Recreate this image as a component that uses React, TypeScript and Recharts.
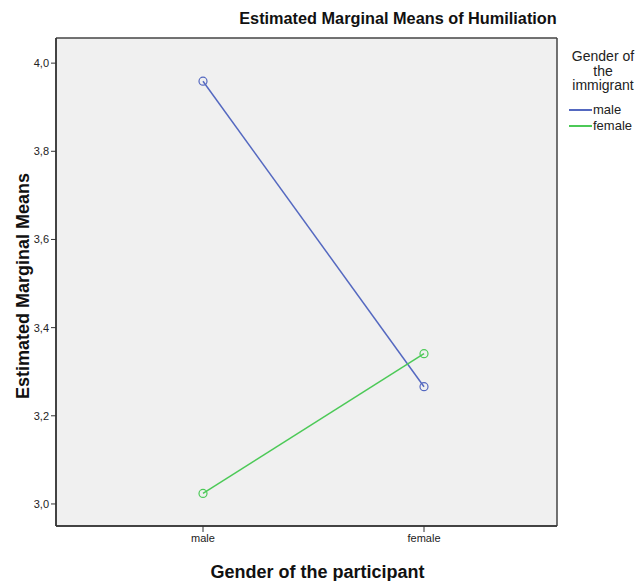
import { LineChart, Line, XAxis, YAxis, CartesianGrid } from 'recharts';

// Gender of the participant
const categories = ['male', 'female'];
// Gender of the immigrant
const maleImmigrant = [3.959, 3.266];
const femaleImmigrant = [3.024, 3.341];
const yTicks = [3.0, 3.2, 3.4, 3.6, 3.8, 4.0];

const seriesNames = ['male', 'female'];
const colors = ['#5468c0', '#4cc957'];

const data = categories.map((c, i) => ({
  gender: c,
  male: maleImmigrant[i],
  female: femaleImmigrant[i],
}));

const font = '"Liberation Sans", Arial, sans-serif';

function LegendBox() {
  return (
    <div style={{ fontFamily: font, color: '#222', width: 72 }}>
      <div style={{ textAlign: 'center', fontSize: 14, lineHeight: '14.5px', marginBottom: 9.5 }}>
        Gender of
        <br />
        the
        <br />
        immigrant
      </div>
      {seriesNames.map((name, i) => (
        <div key={name} style={{ display: 'flex', alignItems: 'center', height: 16, paddingLeft: 2 }}>
          <span style={{ display: 'inline-block', width: 23, height: 2, background: colors[i], marginRight: 1 }} />
          <span style={{ fontSize: 13, lineHeight: '16px' }}>{name}</span>
        </div>
      ))}
    </div>
  );
}

export default function App() {
  return (
    <div style={{ position: 'absolute', left: 0, top: 0, width: 636, height: 581, background: '#fff', overflow: 'hidden' }}>
      <div
        style={{
          position: 'absolute',
          left: 236,
          top: 9,
          width: 324,
          textAlign: 'center',
          fontFamily: font,
          fontWeight: 'bold',
          fontSize: 16.3,
          color: '#111',
        }}
      >
        Estimated Marginal Means of Humiliation
      </div>
      <div style={{ position: 'absolute', left: 567, top: 49 }}>
        <LegendBox />
      </div>
      <LineChart width={636} height={581} data={data} margin={{ top: 38, right: 79, left: 10, bottom: 25 }}>
        {/* plot frame: grid lines only on the plot edges */}
        <CartesianGrid
          fill="#f0f0f0"
          stroke="#444"
          strokeWidth={1.5}
          horizontalCoordinatesGenerator={({ offset }: any) => [offset.top, offset.top + offset.height]}
          verticalCoordinatesGenerator={({ offset }: any) => [offset.left, offset.left + offset.width]}
        />
        <XAxis
          dataKey="gender"
          padding={{ left: 147, right: 133 }}
          height={30}
          tickLine={{ stroke: '#333' }}
          axisLine={{ stroke: '#333', strokeWidth: 1.5 }}
          tick={{ fill: '#222', fontSize: 11, fontFamily: font }}
          tickSize={6}
          label={{ value: 'Gender of the participant', position: 'insideBottom', offset: -22, dx: 11, fill: '#111', fontSize: 18, fontWeight: 'bold', fontFamily: font }}
        />
        <YAxis
          domain={[2.95, 4.057]}
          ticks={yTicks}
          width={46}
          allowDataOverflow
          tickFormatter={(v: number) => v.toFixed(1).replace('.', ',')}
          tickLine={{ stroke: '#333' }}
          axisLine={{ stroke: '#333', strokeWidth: 1.5 }}
          tick={{ fill: '#222', fontSize: 11, fontFamily: font }}
          tickSize={5}
          label={{ value: 'Estimated Marginal Means', angle: -90, position: 'insideLeft', offset: 0, dx: 13, dy: 4, fill: '#111', fontSize: 18, fontWeight: 'bold', fontFamily: font, style: { textAnchor: 'middle' } }}
        />
        {seriesNames.map((name, i) => (
          <Line
            key={name}
            type="linear"
            dataKey={name}
            stroke={colors[i]}
            strokeWidth={1.5}
            dot={{ r: 4, fill: 'none', stroke: colors[i], strokeWidth: 1.2 }}
            activeDot={false}
            isAnimationActive={false}
          />
        ))}
      </LineChart>
    </div>
  );
}
